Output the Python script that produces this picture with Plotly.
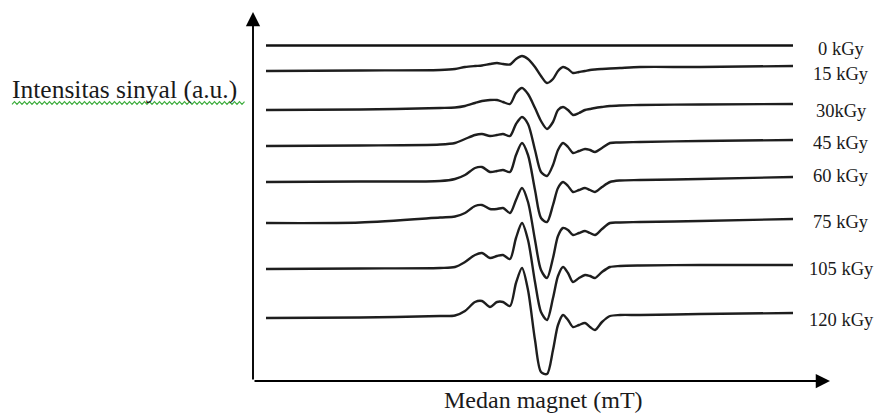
import plotly.graph_objects as go

# ---------------- data (arbitrary units) ----------------
field = [13, 107, 187, 202, 212, 222, 229, 237, 244, 250, 257, 263, 269, 275, 282, 288,
         294, 300, 305, 310, 315, 320, 326, 332, 337, 342, 349, 357, 367, 387, 447, 540]

field_0 = [13, 540]
int_0 = [335.5, 335.5]

int_15 = [310, 310.5, 311, 312, 314, 315, 315.5, 317, 318, 317, 316.5, 322, 325, 322, 314, 305,
          298, 302, 310, 314, 312, 308, 309, 310, 311, 311.5, 312, 312.5, 313, 314, 314, 315]
int_30 = [271, 271.5, 273, 273.5, 275, 278, 280, 281, 281, 279, 277, 288, 293, 287, 273, 260,
          252, 259, 271, 274, 271, 266, 268, 271, 272, 273, 274, 275, 275.5, 276, 276.5, 277]
int_45 = [235, 235.5, 236.5, 238, 242, 246, 247, 245, 246, 247, 245, 257, 264, 257, 231, 209,
          205, 216, 231, 238, 234, 228, 230, 232, 231, 229, 233, 238, 238.5, 239, 240, 241]
int_60 = [199, 199.5, 200, 202, 206, 213, 214, 209, 210, 211, 209, 226, 238, 226, 191, 163,
          159, 176, 193, 199, 195, 189, 191, 193, 191, 189, 194, 199, 200.5, 201, 202, 204]
int_75 = [158, 158.5, 163.5, 164.5, 168, 175, 176, 172, 172, 173, 168, 181, 193, 179, 141, 111,
          103, 123, 145, 153, 151, 146, 148, 150, 148, 146, 152, 158, 158.5, 159, 160, 162]
int_105 = [112, 112.5, 113, 114, 119, 126, 128, 123, 125, 126, 122, 143, 158, 141, 99, 69,
           61, 83, 105, 114, 108, 99, 103, 106, 105, 103, 109, 114, 115, 115.5, 116, 116]
int_120 = [63, 63.5, 65, 65.5, 70, 79, 80, 74, 79, 79, 75, 98, 113, 91, 41, 9,
           7, 31, 56, 66, 61, 54, 56, 58, 54, 51, 59, 65, 66, 66, 67, 68]

dose_labels = ["0 kGy", "15 kGy", "30kGy", "45 kGy", "60 kGy", "75 kGy", "105 kGy", "120 kGy"]
label_y = [332, 307, 270, 238, 205, 159, 112, 61]

spectra = [int_15, int_30, int_45, int_60, int_75, int_105, int_120]

# ---------------- figure ----------------
W, H = 877, 416
ML, MR, MT, MB = 253, 47, 12, 35
XMAX, YMAX = 577, 369

fig = go.Figure()
LINE = "#1e1e1e"
fig.add_trace(go.Scatter(x=field_0, y=int_0, mode="lines",
                         line=dict(color="#111111", width=2.4), cliponaxis=False,
                         hoverinfo="skip", showlegend=False))
for s in spectra:
    fig.add_trace(go.Scatter(x=field, y=s, mode="lines",
                             line=dict(color=LINE, width=2.4, shape="spline", smoothing=0.8),
                             cliponaxis=False, hoverinfo="skip", showlegend=False))

FONT = "Liberation Serif"
TXT = "#1a1a1a"
ann = []
# axes with arrows
ann.append(dict(x=XMAX, y=0, ax=0, ay=0, xref="x", yref="y", axref="x", ayref="y",
                showarrow=True, arrowhead=2, arrowsize=1.5, arrowwidth=1.9,
                arrowcolor="#000000", text=""))
ann.append(dict(x=0, y=YMAX, ax=0, ay=0, xref="x", yref="y", axref="x", ayref="y",
                showarrow=True, arrowhead=2, arrowsize=1.5, arrowwidth=1.9,
                arrowcolor="#000000", text=""))
# dose labels
for t, yv in zip(dose_labels, label_y):
    ann.append(dict(x=(841 - ML) / XMAX, y=yv, xref="paper", yref="y", text=t,
                    showarrow=False, xanchor="center", yanchor="middle",
                    font=dict(family=FONT, size=18.5, color=TXT)))
# axis titles
ann.append(dict(x=(10 - ML) / XMAX, y=(381 - 89) / YMAX, xref="paper", yref="paper",
                text="Intensitas sinyal (a.u.)", showarrow=False, xanchor="left",
                yanchor="middle", font=dict(family=FONT, size=25.5, color=TXT)))
ann.append(dict(x=(543 - ML) / XMAX, y=(381 - 400) / YMAX, xref="paper", yref="paper",
                text="Medan magnet (mT)", showarrow=False, xanchor="center",
                yanchor="middle", font=dict(family=FONT, size=24, color=TXT)))

# green spell-check squiggle under the y title (decoration)
pts = []
x0p, x1p, yp = 12, 246, 103
k = 0
xp = x0p
while xp <= x1p:
    yy = yp + (1.3 if k % 2 == 0 else -1.3)
    pts.append(((xp - ML) / XMAX, (381 - yy) / YMAX))
    xp += 2.5
    k += 1
path = "M " + " L ".join(f"{a:.5f},{b:.5f}" for a, b in pts)
shapes = [dict(type="path", path=path, xref="paper", yref="paper",
               line=dict(color="#3fae3f", width=1.2))]

fig.update_layout(
    width=W, height=H,
    margin=dict(l=ML, r=MR, t=MT, b=MB, pad=0),
    paper_bgcolor="white", plot_bgcolor="white",
    xaxis=dict(range=[0, XMAX], visible=False, fixedrange=True),
    yaxis=dict(range=[0, YMAX], visible=False, fixedrange=True),
    annotations=ann, shapes=shapes, showlegend=False,
)

fig.write_html("out.html", config={"displayModeBar": False})
